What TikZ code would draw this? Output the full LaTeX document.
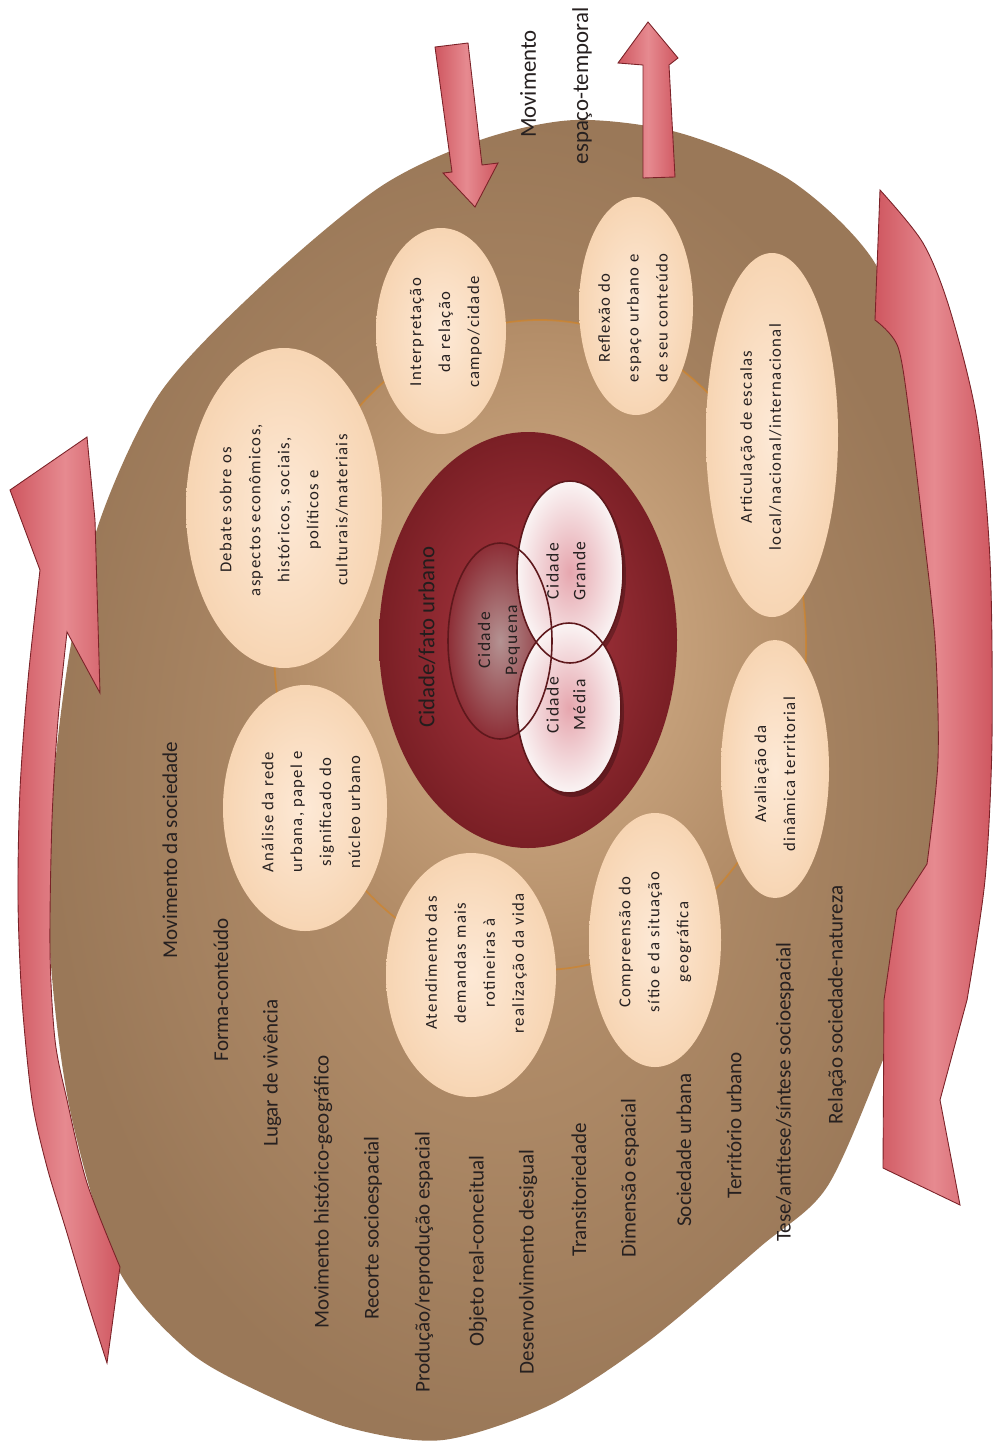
\documentclass[tikz,border=0pt]{standalone}
\usepackage{fontspec}
\setmainfont{Carlito}
\newfontfamily\bubblefont[LetterSpace=8]{Carlito}
\usetikzlibrary{shapes.geometric}

\definecolor{brownout}{HTML}{9A7858}
\definecolor{brownin}{HTML}{BE9872}
\definecolor{ringin}{HTML}{D8B48D}
\definecolor{ringout}{HTML}{B28C67}
\definecolor{ringline}{HTML}{D0842A}
\definecolor{peachin}{HTML}{FDE9D6}
\definecolor{peachout}{HTML}{F7D5B3}
\definecolor{wineout}{HTML}{7A1F25}
\definecolor{winein}{HTML}{B03A44}
\definecolor{cityedge}{HTML}{5E181C}
\definecolor{pinkin}{HTML}{E6A6AE}
\definecolor{pinkout}{HTML}{FAF4F4}
\definecolor{mauvein}{HTML}{B49292}
\definecolor{arrowred}{HTML}{CF5760}
\definecolor{arrowlight}{HTML}{E68A90}
\definecolor{arrowedge}{HTML}{7A2228}
\definecolor{textdark}{HTML}{262020}

\begin{document}
\begin{tikzpicture}[x = 0.02cm, y = -0.02cm,
  bubblefill/.style = {inner color = peachin, outer color = peachout},
  bubbletext/.style = {rotate = 90, align = center, inner sep = 1pt, text = textdark,
    font = \bubblefont\fontsize{9.5}{16.5}\selectfont},
  citytext/.style = {bubbletext, font = \bubblefont\fontsize{10}{15.3}\selectfont},
  listtext/.style = {rotate = 90, inner sep = 1pt, text = textdark, font = \fontsize{12}{14}\selectfont},
  toptext/.style = {listtext, font = \fontsize{13}{15}\selectfont},
  bigarrow/.style = {left color = arrowred, right color = arrowred, middle color = arrowlight,
    draw = arrowedge, line width = 0.5pt},
  cityline/.style = {draw = cityedge, line width = 0.9pt}]
    \useasboundingbox (0,0) rectangle (993,1444);

    % outer field
    \shade[inner color = brownin, outer color = brownout] plot[smooth cycle] coordinates {
        (575,120) (680,133) (790,180) (873,260) (920,380) (948,530) (955,700) (940,880)
        (905,1000) (883,1060) (827,1187) (760,1247) (650,1340) (550,1405) (443,1440)
        (350,1428) (260,1392) (187,1350) (117,1267) (70,1110) (50,950) (52,800) (70,650)
        (100,520) (160,393) (260,287) (380,187) (480,140)};

    % ring and urban core
    \shade[inner color = ringin, outer color = ringout] (540,645) ellipse [x radius = 266, y radius = 325];
    \draw[ringline, line width = 1pt, opacity = 0.7] (540,645) ellipse [x radius = 266, y radius = 325];
    \shade[inner color = winein, outer color = wineout] (528,640) ellipse [x radius = 149, y radius = 208];

    % city sizes
    \shade[inner color = mauvein, outer color = winein!80!black] (500,641) ellipse [x radius = 52, y radius = 98];
    \fill[black, opacity = 0.25] (573,576) ellipse [x radius = 53, y radius = 91];
    \shade[inner color = pinkin, outer color = pinkout] (570,572) ellipse [x radius = 53, y radius = 91];
    \fill[black, opacity = 0.25] (572,712) ellipse [x radius = 52, y radius = 85];
    \shade[inner color = pinkin, outer color = pinkout] (569,708) ellipse [x radius = 52, y radius = 85];
    \draw[cityline] (500,641) ellipse [x radius = 52, y radius = 98];
    \draw[cityline] (570,572) ellipse [x radius = 53, y radius = 91];
    \draw[cityline] (569,708) ellipse [x radius = 52, y radius = 85];
    \node[toptext, text = textdark!90!black] (fato) at (427,637) {Cidade/fato urbano};
    \node[citytext] (pequena) at (499,640) {Cidade\\Pequena};
    \node[citytext] (grande) at (566,571) {Cidade\\Grande};
    \node[citytext] (media) at (566,705) {Cidade\\Média};

    % bubbles around the core
    \shade[bubblefill] (441,331) ellipse [x radius = 65, y radius = 103];
    \shade[bubblefill] (636,306) ellipse [x radius = 57, y radius = 109];
    \shade[bubblefill] (772,435) ellipse [x radius = 66, y radius = 182];
    \shade[bubblefill] (775,769) ellipse [x radius = 54, y radius = 129];
    \shade[bubblefill] (655,940) ellipse [x radius = 66, y radius = 127];
    \shade[bubblefill] (471,975) ellipse [x radius = 85, y radius = 122];
    \shade[bubblefill] (305,808) ellipse [x radius = 82, y radius = 123];
    \shade[bubblefill] (284,508) ellipse [x radius = 98, y radius = 160];
    \node[bubbletext] (interp) at (446,332) {Interpretação\\da relação\\campo/cidade};
    \node[bubbletext] (reflex) at (633,318) {Reflexão do\\espaço urbano e\\de seu conteúdo};
    \node[bubbletext] (artic) at (761,437) {Articulação de escalas\\local/nacional/internacional};
    \node[bubbletext] (aval) at (775,774) {Avaliação da\\dinâmica territorial};
    \node[bubbletext] (compr) at (655,942) {Compreensão do\\sítio e da situação\\geográfica};
    \node[bubbletext] (atend) at (476,963) {Atendimento das\\demandas mais\\rotineiras à\\realização da vida};
    \node[bubbletext] (anal) at (311,812) {Análise da rede\\urbana, papel e\\significado do\\núcleo urbano};
    \node[bubbletext] (debate) at (284,510) {Debate sobre os\\aspectos econômicos,\\históricos, sociais,\\políticos e\\culturais/materiais};

    % list of concepts
    \foreach \x/\y/\t [count = \i] in {170/850/{Movimento da sociedade}, 221/990/{Forma-conteúdo},
        272/1073/{Lugar de vivência}, 323/1192/{Movimento histórico-geográfico},
        373/1228/{Recorte socioespacial}, 424/1262/{Produção/reprodução espacial},
        478/1251/{Objeto real-conceitual}, 528/1262/{Desenvolvimento desigual},
        579/1190/{Transitoriedade}, 630/1178/{Dimensão espacial}, 684/1150/{Sociedade urbana},
        734/1125/{Território urbano}, 785/1092/{Tese/antítese/síntese socioespacial},
        837/1005/{Relação sociedade-natureza}}{
        \node[listtext] (term\i) at (\x,\y) {\t};
    }

    % movement arrows
    \draw[bigarrow] plot[smooth] coordinates {(107,1363) (87,1300) (67,1233) (47,1167) (32,1100)
        (22,1000) (18,900) (20,790) (28,680) (40,570)} -- (10,490) -- (87,437) -- (95,520)
        -- (100,693) -- plot[smooth] coordinates {(67,632) (58,720) (52,820) (50,950) (55,1040)
        (67,1100) (87,1183) (120,1267)} -- cycle;
    \draw[bigarrow] plot[smooth] coordinates {(880,190) (923,243) (950,310) (977,420) (990,560)
        (992,740) (985,880) (967,1000)} -- (940,1100) -- (960,1205) -- (883,1168) -- (884,1000)
        -- (897,910) -- plot[smooth] coordinates {(927,864) (938,760) (935,640) (922,520)
        (910,420) (898,347) (875,320)} -- cycle;
    \draw[bigarrow] (435,47) -- (468,43) -- (482,165) -- (498,163) -- (475,207) -- (443,173)
        -- (452,172) -- cycle;
    \draw[bigarrow] (648,22) -- (678,58) -- (669,65) -- (675,177) -- (643,178) -- (643,65)
        -- (618,63) -- cycle;
    \node[toptext] (mov) at (528,84) {Movimento};
    \node[toptext] (espaco) at (582,86) {espaço-temporal};
\end{tikzpicture}
\end{document}
